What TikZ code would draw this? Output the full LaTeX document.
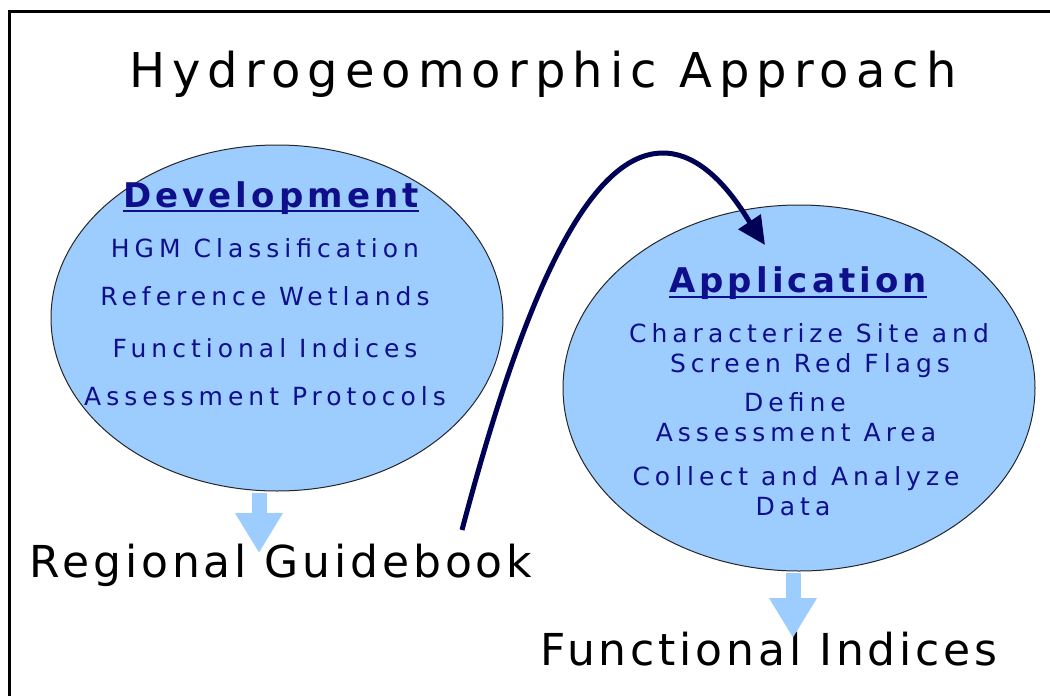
\documentclass[tikz,border=0pt]{standalone}
\usepackage{fontspec}
\usepackage{tikz}
\usetikzlibrary{shapes.geometric,arrows.meta}
\newfontfamily\hgmtitlefont[LetterSpace=14.7]{DejaVu Sans}
\newfontfamily\hgmheadfont[LetterSpace=12]{DejaVu Sans}
\newfontfamily\hgmitemfont[LetterSpace=20]{DejaVu Sans}
\newfontfamily\hgmlabelfont[LetterSpace=8.8]{DejaVu Sans}
\definecolor{HGMBubbleColor}{RGB}{157,204,255}
\definecolor{HGMTextColor}{RGB}{15,15,140}
\definecolor{HGMLoopColor}{RGB}{0,0,85}

\begin{document}
\begin{tikzpicture}[x=1pt,y=-1pt,
  bubble/.style={ellipse,draw=black!85,line width=1pt,fill=HGMBubbleColor,inner sep=0pt},
  head/.style={anchor=base,inner sep=0pt,text=HGMTextColor,font={\hgmheadfont\bfseries\fontsize{34}{36}\selectfont}},
  item/.style={anchor=base,inner sep=0pt,text=HGMTextColor,font={\hgmitemfont\fontsize{25}{27}\selectfont}},
  label/.style={anchor=base,inner sep=0pt,font={\hgmlabelfont\fontsize{44}{46}\selectfont}},
  fatarrow/.style={HGMBubbleColor,line width=15pt,-{Triangle[length=40pt,width=45pt]}}]
\useasboundingbox (0,0) rectangle (1050,696);
\draw[line width=3pt] (9.5,696) -- (9.5,11.5) -- (1050,11.5);
\node[anchor=base,inner sep=0pt,font={\hgmtitlefont\fontsize{48}{50}\selectfont}] (title) at (543,87) {Hydrogeomorphic Approach};
% development bubble
\node[bubble,minimum width=452pt,minimum height=346pt] (dev) at (277,318) {};
\node[head] (devhead) at (271,207) {Development};
\draw[HGMTextColor,line width=2pt] ([yshift=-4pt]devhead.base west) -- ([yshift=-4pt]devhead.base east);
\foreach \y/\1 in %
{257/HGM Classification,305/Reference Wetlands,357/Functional Indices,405/Assessment Protocols} {
   \node[item] (devitem\y) at (265,\y) {\1};
}
% application bubble
\node[bubble,minimum width=472pt,minimum height=366pt] (app) at (799,388) {};
\node[head] (apphead) at (798,292) {Application};
\draw[HGMTextColor,line width=2pt] ([yshift=-5pt]apphead.base west) -- ([yshift=-5pt]apphead.base east);
\foreach \x/\y/\1 in %
{809/342/Characterize Site and,810/372/Screen Red Flags,795/411/Define,796/441/Assessment Area,796/485/Collect and Analyze,793/515/Data} {
   \node[item] (appitem\y) at (\x,\y) {\1};
}
% outputs
\node[label] (guide) at (281,577) {Regional Guidebook};
\node[label] (indices) at (769,665) {Functional Indices};
\coordinate (guidetip) at (259,553);
\coordinate (indicestip) at (793,638);
\draw[fatarrow] ([yshift=-1.5pt]dev.south -| guidetip) -- (guidetip);
\draw[fatarrow] ([yshift=-1.5pt]app.south -| indicestip) -- (indicestip);
% loop back to application
\coordinate (loopstart) at (462,530);
\coordinate (looptop) at (663,153);
\coordinate (loopend) at (765,245);
\draw[HGMLoopColor,line width=5pt,-{Triangle[length=28pt,width=26pt]}]
   (loopstart) .. controls (515,330) and (580,153) .. (looptop)
   .. controls (710,153) and (743,212) .. (loopend);
\end{tikzpicture}
\end{document}
